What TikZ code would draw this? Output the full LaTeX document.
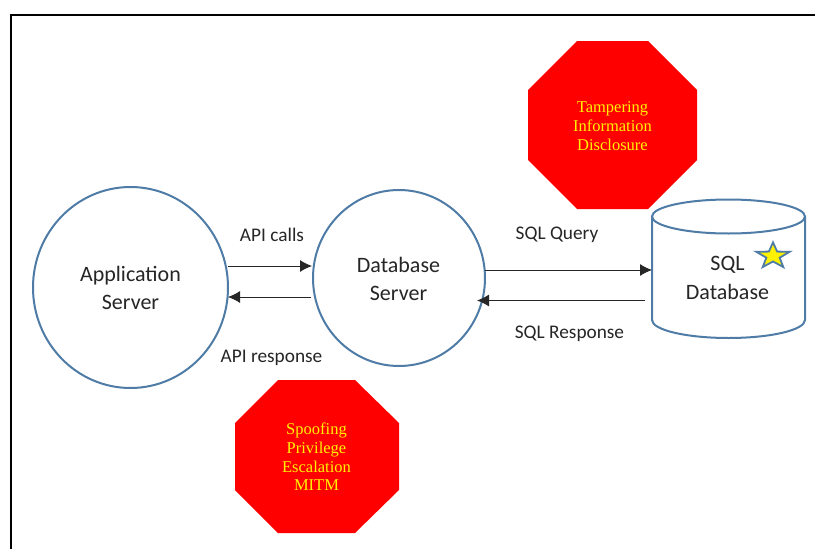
\documentclass[tikz,border=0pt]{standalone}
\usepackage{fontspec}
\setmainfont{Carlito}
\newfontfamily\serifx{Liberation Serif}
\usetikzlibrary{arrows.meta,shapes.geometric}
\definecolor{bl}{HTML}{4F7CA6}
\definecolor{stary}{HTML}{FFF200}
\definecolor{tx}{HTML}{262626}
\begin{document}
\begin{tikzpicture}[x=1pt,y=-1pt,
 circ/.style 2 args={ellipse,draw=bl,line width=2pt,minimum width=#1,minimum height=#2,inner sep=0pt,align=center,text=tx,font=\fontsize{22}{28}\selectfont},
 lab/.style={font=\fontsize{19.3}{22}\selectfont,inner sep=0pt,text=tx},
 stop/.style={fill=red,draw=none},
 stoplab/.style={font=\serifx\fontsize{16.5}{18.7}\selectfont,text=yellow,align=center,inner sep=0pt},
 arr/.style={-{Latex[length=12pt,width=12pt]},line width=0.9pt,draw=black!85,fill=black}]
\useasboundingbox (0,0) rectangle (815,549);
\fill[white] (0,0) rectangle (815,549);
\draw[line width=1.7pt] (11,549) -- (11,15) -- (815,15);
\node[circ={195pt}{201pt}] (app) at (130.5,287.5) {Application\\Server};
\node[circ={172pt}{176pt}] (db) at (399,278) {};
\node[align=center,text=tx,font=\fontsize{22}{28}\selectfont,inner sep=0pt] (dbt) at (398.5,279) {Database\\Server};
% cylinder
\draw[bl,line width=2pt,fill=white] (652,216.5) -- (652,320) arc[start angle=180,end angle=0,x radius=76.5,y radius=18] -- (805,216.5);
\draw[bl,line width=2pt,fill=white] (728.5,216.5) ellipse[x radius=76.5,y radius=17];
\node[align=center,font=\fontsize{22}{29.5}\selectfont,inner sep=0pt,text=tx] (sql) at (727.5,278) {SQL\\Database};
\node[star,star points=5,star point ratio=2.5,fill=stary,draw=bl,line width=1.8pt,minimum size=35pt,inner sep=0pt,yscale=0.78,transform shape] (st) at (773,256) {};
\fill[stop] (577,41) -- (648,41) -- (697,90) -- (697,160) -- (648,209) -- (577,209) -- (528,160) -- (528,90) -- cycle;
\node[stoplab] (t1) at (612.5,126) {Tampering\\Information\\Disclosure};
\fill[stop] (278,380) -- (355,380) -- (399,423) -- (399,490) -- (355,533) -- (278,533) -- (235,490) -- (235,423) -- cycle;
\node[stoplab] (t2) at (316.5,457) {Spoofing\\Privilege\\Escalation\\MITM};
\coordinate (a1) at (228,266); \coordinate (a2) at (312,266);
\coordinate (b1) at (311,297); \coordinate (b2) at (228,297);
\coordinate (c1) at (485,270); \coordinate (c2) at (652,270);
\coordinate (d1) at (645,300.5); \coordinate (d2) at (477,300.5);
\draw[arr] (a1) -- (a2);
\draw[arr] (b1) -- (b2);
\draw[arr] (c1) -- (c2);
\draw[arr] (d1) -- (d2);
\node[lab] (l1) at (272,234.5) {API calls};
\node[lab] (l2) at (271.5,358) {API response};
\node[lab] (l3) at (557,235) {SQL Query};
\node[lab] (l4) at (569.5,334) {SQL Response};
\end{tikzpicture}
\end{document}
